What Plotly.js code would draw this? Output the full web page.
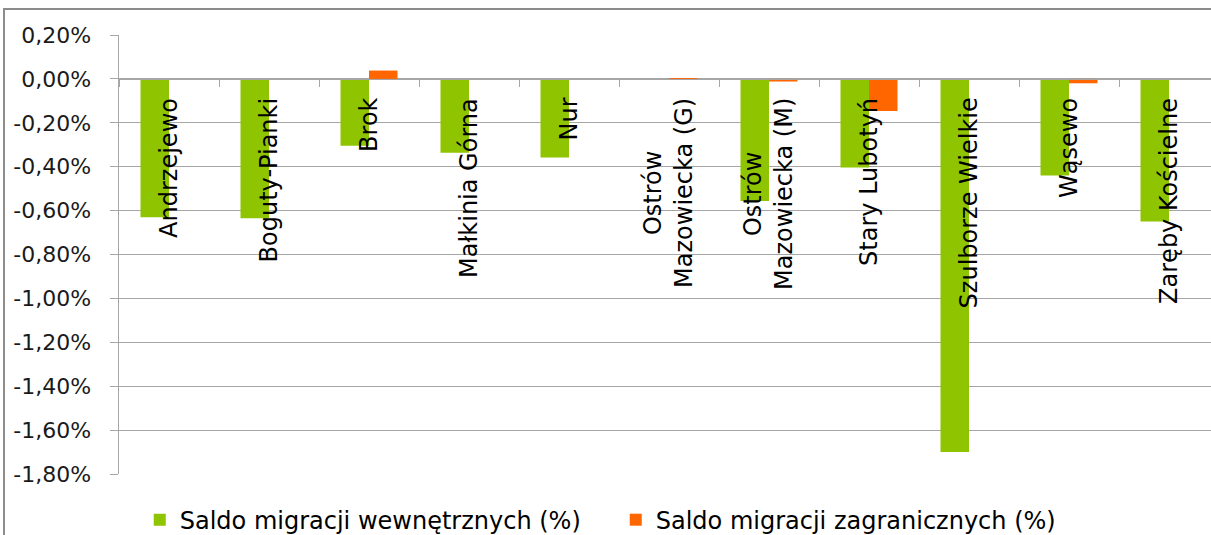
<!DOCTYPE html>
<html>
<head>
<meta charset="utf-8">
<script src="https://cdn.plot.ly/plotly-3.0.1.min.js"></script>
<style>html,body{margin:0;padding:0;background:#fff;}#chart{width:1211px;height:535px;}</style>
</head>
<body>
<div id="chart"></div>
<script>
const categories = ["Andrzejewo", "Boguty-Pianki", "Brok", "Małkinia Górna", "Nur",
  "Ostrów Mazowiecka (G)", "Ostrów Mazowiecka (M)", "Stary Lubotyń", "Szulborze Wielkie", "Wąsewo", "Zaręby Kościelne"];
const categoryLabels = ["Andrzejewo", "Boguty-Pianki", "Brok", "Małkinia Górna", "Nur",
  "Ostrów<br>Mazowiecka (G)", "Ostrów<br>Mazowiecka (M)", "Stary Lubotyń", "Szulborze Wielkie", "Wąsewo", "Zaręby Kościelne"];
const internalMigration = [-0.63, -0.635, -0.305, -0.336, -0.358, 0, -0.556, -0.404, -1.70, -0.44, -0.65];
const foreignMigration = [0, 0, 0.038, 0, 0, 0.004, -0.012, -0.146, 0, -0.02, 0];
const seriesNames = ["Saldo migracji wewnętrznych (%)", "Saldo migracji zagranicznych (%)"];
const yTickValues = [0.2, 0, -0.2, -0.4, -0.6, -0.8, -1.0, -1.2, -1.4, -1.6, -1.8];
const yTickLabels = ["0,20%", "0,00%", "-0,20%", "-0,40%", "-0,60%", "-0,80%", "-1,00%", "-1,20%", "-1,40%", "-1,60%", "-1,80%"];

const FONT = "DejaVu Sans";
const GRID = "#A6A6A6";

const traces = [
  {type: "bar", name: seriesNames[0], x: categories, y: internalMigration,
   marker: {color: "#8FC400"}, hoverinfo: "skip"},
  {type: "bar", name: seriesNames[1], x: categories, y: foreignMigration,
   marker: {color: "#FF6600"}, hoverinfo: "skip"}
];

const annotations = categories.map((c, i) => ({
  x: c, y: 0, xref: "x", yref: "y",
  text: categoryLabels[i], showarrow: false, textangle: -90,
  xanchor: "center", yanchor: "top", yshift: -17, align: "center",
  font: {family: FONT, size: 24, color: "#000"}
}));

const layout = {
  width: 1211, height: 535,
  margin: {l: 119, r: 0, t: 35, b: 61, autoexpand: false},
  paper_bgcolor: "#fff", plot_bgcolor: "#fff",
  barmode: "group", bargap: 0.43, bargroupgap: 0,
  showlegend: true,
  legend: {orientation: "h", x: 0.019, xanchor: "left", y: -0.105, yanchor: "middle",
    entrywidth: 431, entrywidthmode: "pixels",
    font: {family: FONT, size: 24, color: "#000"}, traceorder: "normal"},
  xaxis: {type: "category", range: [-0.5, 10.42], anchor: "free", position: 0.9,
    showline: true, linecolor: GRID, linewidth: 1.5, ticks: "outside", tickson: "boundaries",
    ticklen: 7, tickcolor: GRID, showticklabels: false, showgrid: false, zeroline: false, fixedrange: true},
  yaxis: {range: [-1.8, 0.2], tickvals: yTickValues, ticktext: yTickLabels,
    showline: true, linecolor: GRID, linewidth: 1.5, ticks: "outside", ticklen: 8, tickcolor: GRID,
    showgrid: true, gridcolor: GRID, gridwidth: 1, zeroline: false, ticklabelstandoff: 14,
    tickfont: {family: FONT, size: 22, color: "#1a1a1a"}, fixedrange: true},
  annotations: annotations,
  shapes: [{type: "rect", xref: "paper", yref: "paper", x0: -0.1053, x1: 1.2, y0: -0.3, y1: 1.0592,
    line: {color: "#8C8C8C", width: 2}, fillcolor: "rgba(0,0,0,0)", layer: "below"}]
};

Plotly.newPlot("chart", traces, layout, {displayModeBar: false, staticPlot: true});
</script>
</body>
</html>
